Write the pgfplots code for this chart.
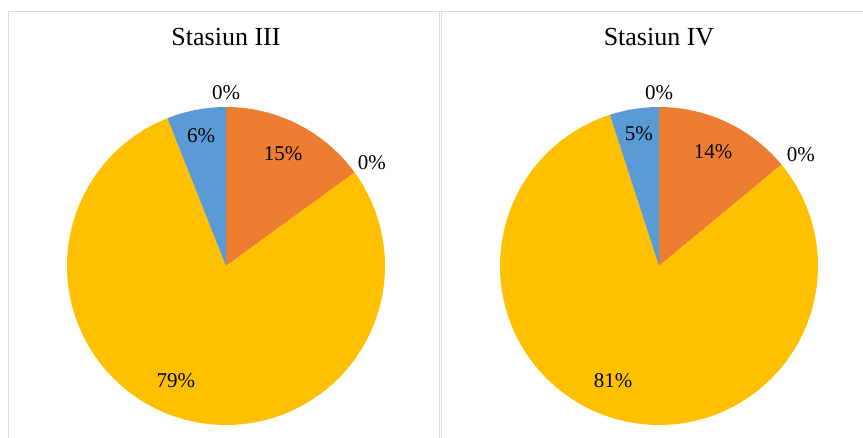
\documentclass[border=0pt]{standalone}
\usepackage{fontspec}
\setmainfont{Liberation Serif}
\usepackage{pgfplots}
\pgfplotsset{compat=1.18}

\definecolor{slcOrange}{HTML}{ED7D31}
\definecolor{slcYellow}{HTML}{FFC000}
\definecolor{slcBlue}{HTML}{5B9BD5}
\definecolor{frameGray}{HTML}{D9D9D9}

% One wedge of a pie, clockwise from twelve o'clock.
% #1 = share already used before it (percent), #2 = its own share (percent), #3 = colour
\newcommand{\pieslice}[3]{%
  \pgfmathsetmacro\sliceend{#1+#2}%
  \pgfmathsetmacro\slicesamples{max(4,round(1.5*#2))}%
  \addplot[draw=none, fill=#3, domain=#1:\sliceend, samples=\slicesamples]
    ({sin(3.6*x)}, {cos(3.6*x)}) -- (axis cs:0,0) -- cycle;
}
% Percentage label of a wedge, placed in the pie's own coordinates
\newcommand{\pielabel}[3]{%
  \node[font=\fontsize{21}{25}\selectfont, inner sep=0pt] at (axis cs:#1,#2) {#3\%};
}

\pgfplotsset{
  pie panel/.style={
    width=318pt, height=318pt, scale only axis,
    xmin=-1, xmax=1, ymin=-1, ymax=1,
    hide axis, clip=false, anchor=center,
    title style={font=\fontsize{26}{30}\selectfont, at={(0.5,1.173)}, anchor=base},
  },
}

\begin{document}
\begin{tikzpicture}
\useasboundingbox (0,0) rectangle (863pt,438pt);

% chart-area frames
\draw[frameGray, line width=1pt] (8pt,0) -- (8pt,426pt) -- (863pt,426pt);
\draw[frameGray, line width=1pt] (439.5pt,0) -- (439.5pt,426pt);
\draw[frameGray, line width=1pt] (441.8pt,0) -- (441.8pt,426pt);

% Stasiun III: 0, 15, 0, 79, 6 percent
\begin{axis}[pie panel, at={(226pt,172pt)}, title={Stasiun III}]
  \pieslice{0}{15}{slcOrange}
  \pieslice{15}{79}{slcYellow}
  \pieslice{94}{6}{slcBlue}
  \pielabel{0}{1.088}{0}
  \pielabel{0.360}{0.705}{15}
  \pielabel{0.918}{0.648}{0}
  \pielabel{-0.315}{-0.723}{79}
  \pielabel{-0.157}{0.818}{6}
\end{axis}

% Stasiun IV: 0, 14, 0, 81, 5 percent
\begin{axis}[pie panel, at={(659pt,172pt)}, title={Stasiun IV}]
  \pieslice{0}{14}{slcOrange}
  \pieslice{14}{81}{slcYellow}
  \pieslice{95}{5}{slcBlue}
  \pielabel{0}{1.088}{0}
  \pielabel{0.340}{0.717}{14}
  \pielabel{0.893}{0.698}{0}
  \pielabel{-0.289}{-0.723}{81}
  \pielabel{-0.126}{0.830}{5}
\end{axis}
\end{tikzpicture}
\end{document}
